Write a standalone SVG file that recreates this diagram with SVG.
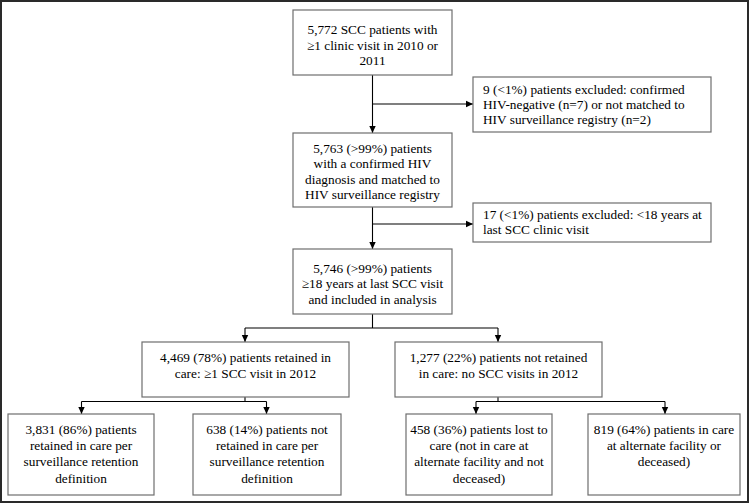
<svg xmlns="http://www.w3.org/2000/svg" width="750" height="504" viewBox="0 0 750 504">
<defs>
<marker id="ah" markerWidth="8" markerHeight="8" refX="7" refY="4" orient="auto" markerUnits="userSpaceOnUse">
<path d="M0,0.8 L7,4 L0,7.2 Z" fill="#000"/>
</marker>
</defs>
<style>
.box{fill:#fff;stroke:#6e6e6e;stroke-width:1.2}
.t{font-family:"Liberation Serif","Times New Roman",serif;font-size:13.3px;fill:#000;text-anchor:middle}
.l{text-anchor:start}
.c{fill:none;stroke:#000;stroke-width:1.1}
.a{marker-end:url(#ah)}
</style>
<rect x="1" y="1" width="747" height="501" fill="#fff" stroke="#2a2a2a" stroke-width="2"/>
<g id="connectors">
<path class="c a" d="M372.5,75 V133"/>
<path class="c a" d="M372.5,104 H473"/>
<path class="c a" d="M372.5,207 V249"/>
<path class="c a" d="M372.5,224 H473"/>
<path class="c" d="M372.5,314 V328 M245,328 H498"/>
<path class="c a" d="M245,328 V342"/>
<path class="c a" d="M498,328 V342"/>
<path class="c" d="M245,397 V401.5 M81.5,401.5 H266.5"/>
<path class="c a" d="M81.5,401.5 V414"/>
<path class="c a" d="M266.5,401.5 V414"/>
<path class="c" d="M498,397 V401.5 M476,401.5 H665"/>
<path class="c a" d="M476,401.5 V414"/>
<path class="c a" d="M665,401.5 V414"/>
</g>
<g id="n1">
<rect class="box" x="293" y="10" width="159" height="65"/>
<text class="t" x="372.5" y="34">5,772 SCC patients with</text>
<text class="t" x="372.5" y="49.5">≥1 clinic visit in 2010 or</text>
<text class="t" x="372.5" y="65">2011</text>
</g>
<g id="ex1">
<rect class="box" x="473" y="77" width="238" height="55"/>
<text class="t l" x="483" y="93.5">9 (&lt;1%) patients excluded: confirmed</text>
<text class="t l" x="483" y="108.5">HIV-negative (n=7) or not matched to</text>
<text class="t l" x="483" y="123.5">HIV surveillance registry (n=2)</text>
</g>
<g id="n2">
<rect class="box" x="293" y="133" width="159" height="74"/>
<text class="t" x="372.5" y="152.5">5,763 (&gt;99%) patients</text>
<text class="t" x="372.5" y="168">with a confirmed HIV</text>
<text class="t" x="372.5" y="183.5">diagnosis and matched to</text>
<text class="t" x="372.5" y="199">HIV surveillance registry</text>
</g>
<g id="ex2">
<rect class="box" x="473" y="203" width="238" height="39"/>
<text class="t l" x="483" y="219">17 (&lt;1%) patients excluded: &lt;18 years at</text>
<text class="t l" x="483" y="234">last SCC clinic visit</text>
</g>
<g id="n3">
<rect class="box" x="293" y="249" width="159" height="65"/>
<text class="t" x="372.5" y="272.5">5,746 (&gt;99%) patients</text>
<text class="t" x="372.5" y="288">≥18 years at last SCC visit</text>
<text class="t" x="372.5" y="303.5">and included in analysis</text>
</g>
<g id="n4">
<rect class="box" x="142" y="342" width="207" height="55"/>
<text class="t" x="245.5" y="362">4,469 (78%) patients retained in</text>
<text class="t" x="245.5" y="378">care: ≥1 SCC visit in 2012</text>
</g>
<g id="n5">
<rect class="box" x="395" y="342" width="207" height="55"/>
<text class="t" x="498.5" y="362">1,277 (22%) patients not retained</text>
<text class="t" x="498.5" y="378">in care: no SCC visits in 2012</text>
</g>
<g id="n6">
<rect class="box" x="8" y="414" width="146" height="81"/>
<text class="t" x="81" y="433.5">3,831 (86%) patients</text>
<text class="t" x="81" y="450">retained in care per</text>
<text class="t" x="81" y="466">surveillance retention</text>
<text class="t" x="81" y="482.5">definition</text>
</g>
<g id="n7">
<rect class="box" x="193" y="414" width="148" height="81"/>
<text class="t" x="267" y="433.5">638 (14%) patients not</text>
<text class="t" x="267" y="450">retained in care per</text>
<text class="t" x="267" y="466">surveillance retention</text>
<text class="t" x="267" y="482.5">definition</text>
</g>
<g id="n8">
<rect class="box" x="406" y="414" width="146" height="81"/>
<text class="t" x="479" y="433.5">458 (36%) patients lost to</text>
<text class="t" x="479" y="450">care (not in care at</text>
<text class="t" x="479" y="466">alternate facility and not</text>
<text class="t" x="479" y="482.5">deceased)</text>
</g>
<g id="n9">
<rect class="box" x="588" y="414" width="152" height="81"/>
<text class="t" x="664" y="433.5">819 (64%) patients in care</text>
<text class="t" x="664" y="450">at alternate facility or</text>
<text class="t" x="664" y="466">deceased)</text>
</g>
</svg>
